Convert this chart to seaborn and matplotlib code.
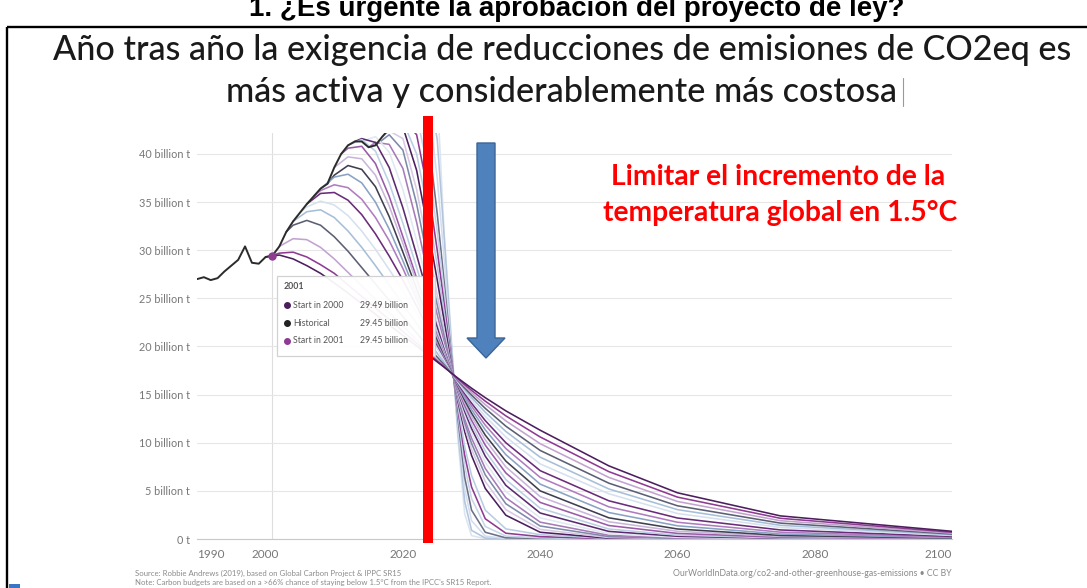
import matplotlib
matplotlib.use("Agg")
import matplotlib.pyplot as plt
from matplotlib.patches import Rectangle, Polygon
import seaborn as sns
import pandas as pd

# historical emissions, billion t
hist_years = list(range(1990, 2020))
hist_values = [27.0, 27.2, 26.9, 27.1, 27.8, 28.4, 29.0, 30.4, 28.7, 28.6,
               29.3, 29.45, 30.4, 31.9, 33.0, 33.9, 34.8, 35.6, 36.4, 36.9,
               38.6, 40.0, 40.9, 41.3, 41.3, 40.7, 40.9, 41.8, 42.6, 43.1]

# every mitigation curve starts at its start year, then follows these years
grid_years = [2000, 2002, 2004, 2006, 2008, 2010, 2012, 2014, 2016, 2018, 2020,
              2022, 2024, 2025, 2026, 2027, 2028, 2029, 2030, 2032, 2035,
              2040, 2050, 2060, 2075, 2100]

start_years = list(range(2000, 2026))

s2000 = [29.3, 29.5, 29.1, 28.4, 27.6, 26.6, 25.55, 24.45, 23.35, 22.25, 21.15, 20.05, 18.95, 18.4, 17.85, 17.28,
         16.72, 16.19, 15.67, 14.68, 13.31, 11.3, 7.6, 4.8, 2.4, 0.8]
s2001 = [29.45, 29.7, 29.8, 29.3, 28.5, 27.6, 26.4, 25.2, 24.0, 22.8, 21.55, 20.35, 19.1, 18.5, 17.9, 17.28,
         16.64, 16.03, 15.44, 14.32, 12.79, 10.6, 7.0, 4.35, 2.15, 0.7]
s2002 = [30.4, 31.2, 31.1, 30.3, 29.1, 27.7, 26.3, 24.9, 23.5, 22.1, 20.7, 19.3, 18.6, 17.95, 17.28,
         16.56, 15.87, 15.2, 13.96, 12.27, 9.9, 6.4, 3.9, 1.9, 0.6]
s2003 = [31.9, 32.6, 33.1, 32.6, 31.4, 29.9, 28.2, 26.5, 24.8, 23.1, 21.4, 19.7, 18.9, 18.1, 17.29,
         16.47, 15.69, 14.95, 13.57, 11.72, 9.2, 5.8, 3.45, 1.65, 0.52]
s2004 = [33.0, 34.0, 34.2, 33.4, 32.0, 30.3, 28.4, 26.4, 24.4, 22.4, 20.3, 19.3, 18.3, 17.29,
         16.39, 15.52, 14.69, 13.17, 11.17, 8.5, 5.2, 3.05, 1.42, 0.44]
s2005 = [33.9, 34.5, 35.1, 34.7, 33.6, 32.0, 30.1, 28.0, 25.8, 23.5, 21.0, 19.8, 18.55, 17.31,
         16.29, 15.32, 14.41, 12.74, 10.6, 7.8, 4.7, 2.65, 1.2, 0.37]
s2006 = [34.8, 35.9, 36.0, 35.2, 33.7, 31.7, 29.4, 26.9, 24.2, 21.3, 19.95, 18.6, 17.33,
         16.19, 15.12, 14.11, 12.3, 10.0, 7.1, 3.97, 2.18, 0.94, 0.27]
s2007 = [35.6, 36.2, 36.8, 36.5, 35.3, 33.4, 31.0, 28.1, 24.9, 21.6, 20.1, 18.7, 17.35,
         16.09, 14.9, 13.8, 11.83, 9.4, 6.4, 3.34, 1.74, 0.71, 0.19]
s2008 = [36.4, 37.6, 37.9, 37.0, 35.0, 32.2, 28.9, 25.4, 21.9, 20.3, 18.8, 17.38,
         15.98, 14.66, 13.45, 11.34, 8.76, 5.7, 2.75, 1.37, 0.52, 0.13]
s2009 = [36.9, 37.8, 38.8, 38.4, 36.6, 33.5, 29.8, 26.0, 22.3, 20.6, 18.95, 17.44,
         15.86, 14.4, 13.08, 10.79, 8.09, 5.0, 2.2, 1.04, 0.37, 0.08]
s2010 = [38.6, 39.7, 39.5, 37.8, 34.6, 30.7, 26.7, 22.8, 20.9, 19.2, 17.48,
         15.74, 14.15, 12.73, 10.3, 7.49, 4.4, 1.79, 0.8, 0.27, 0.05]
s2011 = [40.0, 40.6, 40.8, 39.0, 35.6, 31.4, 27.1, 23.0, 21.1, 19.3, 17.53,
         15.61, 13.88, 12.34, 9.75, 6.86, 3.8, 1.4, 0.58, 0.18, 0.03]
s2012 = [40.9, 41.5, 40.3, 37.0, 32.8, 28.2, 23.6, 21.5, 19.5, 17.6,
         15.47, 13.57, 11.9, 9.14, 6.17, 3.2, 1.04, 0.4, 0.11, 0.02]
s2013 = [41.3, 41.6, 41.2, 38.6, 34.4, 29.5, 24.4, 22.0, 19.7, 17.67,
         15.33, 13.26, 11.48, 8.6, 5.57, 2.7, 0.79, 0.28, 0.07, 0.01]
s2014 = [41.3, 41.8, 40.2, 36.3, 31.0, 25.2, 22.5, 20.0, 17.76,
         15.17, 12.91, 11.0, 7.97, 4.92, 2.2, 0.56, 0.18, 0.04, 0.01]
s2015 = [40.7, 41.2, 41.0, 38.5, 32.9, 26.3, 23.3, 20.5, 17.87,
         14.99, 12.53, 10.48, 7.33, 4.28, 1.75, 0.38, 0.11, 0.02, 0.0]
s2016 = [40.9, 42.0, 40.4, 34.8, 27.7, 24.3, 21.1, 17.99,
         14.8, 12.13, 9.93, 6.66, 3.66, 1.35, 0.25, 0.06, 0.01, 0.0]
s2017 = [41.8, 42.4, 41.6, 36.3, 29.0, 25.3, 21.7, 18.14,
         14.6, 11.67, 9.34, 5.97, 3.05, 1.0, 0.15, 0.03, 0.01, 0.0]
s2018 = [42.6, 42.8, 38.3, 30.9, 26.9, 22.7, 18.33,
         14.35, 11.16, 8.68, 5.25, 2.47, 0.7, 0.08, 0.015, 0.0, 0.0]
s2019 = [43.1, 43.4, 40.0, 32.8, 28.4, 23.6, 18.6,
         13.9, 9.6, 6.6, 3.0, 1.05, 0.45, 0.05, 0.01, 0.0, 0.0]
s2020 = [43.6, 42.0, 34.9, 30.0, 24.5, 18.9,
         13.5, 8.7, 5.4, 2.1, 0.6, 0.25, 0.02, 0.0, 0.0, 0.0]
s2021 = [44.1, 43.9, 37.4, 31.9, 25.8, 19.2,
         13.1, 7.6, 4.2, 1.3, 0.3, 0.12, 0.01, 0.0, 0.0, 0.0]
s2022 = [44.6, 39.8, 33.8, 26.8, 19.6,
         12.6, 6.4, 3.0, 0.7, 0.12, 0.05, 0.0, 0.0, 0.0, 0.0]
s2023 = [45.1, 43.5, 37.5, 29.2, 20.2,
         12.0, 5.2, 1.9, 0.3, 0.05, 0.02, 0.0, 0.0, 0.0, 0.0]
s2024 = [45.6, 41.5, 31.5, 20.8,
         11.3, 3.9, 0.9, 0.1, 0.02, 0.01, 0.0, 0.0, 0.0, 0.0]
s2025 = [46.1, 32.0, 21.5,
         10.5, 2.6, 0.35, 0.03, 0.0, 0.0, 0.0, 0.0, 0.0, 0.0]

curves = [s2000, s2001, s2002, s2003, s2004, s2005, s2006, s2007, s2008, s2009,
          s2010, s2011, s2012, s2013, s2014, s2015, s2016, s2017, s2018, s2019,
          s2020, s2021, s2022, s2023, s2024, s2025]

curve_colors = ["#4b1e5e", "#8e3b91", "#c2a3d0", "#5c5f73", "#a7bed8", "#d5e1ee",
                "#6a2c7a", "#b07cc0", "#8aa3c4", "#3f3f4f", "#c9b6db", "#9a5aa6",
                "#bcd0e4", "#5b2a6e", "#e0e8f2", "#a77bb8", "#7d8aa8", "#d8c9e4",
                "#4b1e5e", "#b9cde2", "#8e3b91", "#c6d6e8", "#6d6f86", "#d2def0",
                "#b3c5dd", "#dbe5f1"]

ytick_vals = [0, 5, 10, 15, 20, 25, 30, 35, 40]
ytick_labels = ["0 t"] + [f"{v} billion t" for v in ytick_vals[1:]]
xtick_vals = [1990, 2000, 2020, 2040, 2060, 2080, 2100]

tooltip_rows = [("Start in 2000", "29.49 billion"),
                ("Historical", "29.45 billion"),
                ("Start in 2001", "29.45 billion")]

palette = dict(zip(start_years, curve_colors))

rows = []
for s, vals in zip(start_years, curves):
    yrs = [s] + [g for g in grid_years if g > s]
    assert len(yrs) == len(vals), s
    rows += [(s, y, v) for y, v in zip(yrs, vals)]
df = pd.DataFrame(rows, columns=["start", "year", "value"])

sns.set_style("white")
plt.rcParams["font.family"] = ["Lato", "DejaVu Sans"]

W, H = 1087, 588
fig = plt.figure(figsize=(W / 100, H / 100), dpi=100)
fig.patch.set_facecolor("white")

ax = fig.add_axes([197 / W, (H - 539) / H, 755 / W, 406 / H])
ax.axvline(2001, color="#dedede", lw=0.8, zorder=0.5)
sns.lineplot(data=df, x="year", y="value", hue="start", hue_order=start_years[::-1],
             palette=palette, estimator=None, sort=False, lw=1.15, legend=False, ax=ax)
sns.lineplot(x=hist_years, y=hist_values, color="#2b2b2b", lw=1.4, ax=ax)
ax.plot([2001], [29.45], "o", color="#8e3b91", ms=5, zorder=12)

ax.set_xlim(1990, 2100)
ax.set_ylim(0, 42.18)
ax.set_yticks(ytick_vals)
ax.set_yticklabels(ytick_labels)
ax.set_xticks(xtick_vals)
ax.set_xticklabels([str(v) for v in xtick_vals])
ax.get_xticklabels()[0].set_ha("left")
ax.get_xticklabels()[-1].set_ha("right")
ax.tick_params(axis="y", length=0, pad=5, labelsize=7.8, labelcolor="#777777")
ax.tick_params(axis="x", length=3, color="#bbbbbb", pad=4, labelsize=8.5, labelcolor="#777777")
ax.set_xlabel("")
ax.set_ylabel("")
ax.grid(axis="y", color="#e6e6e6", lw=0.8)
ax.set_axisbelow(True)
for side in ["top", "right", "left"]:
    ax.spines[side].set_visible(False)
ax.spines["bottom"].set_color("#c8c8c8")

# hover tooltip
ax.add_patch(Rectangle((2001.7, 19.05), 23.0, 8.3, facecolor="white", alpha=0.94,
                       edgecolor="#d0d0d0", lw=0.9, zorder=10))
ax.text(2002.6, 26.2, "2001", fontsize=6.3, fontweight="bold", color="#555555", va="center", zorder=11)
dot_colors = ["#4b1e5e", "#222222", "#8e3b91"]
for (lab, val), yv, c in zip(tooltip_rows, [24.3, 22.4, 20.6], dot_colors):
    ax.plot([2003.1], [yv], "o", color=c, ms=4, zorder=11)
    ax.text(2004.0, yv, lab, fontsize=6.3, color="#555555", va="center", zorder=11)
    ax.text(2013.8, yv, val, fontsize=6.3, color="#555555", va="center", zorder=11)

# slide decorations in pixel coordinates
deco = fig.add_axes([0, 0, 1, 1], zorder=5)
deco.set_xlim(0, W)
deco.set_ylim(H, 0)
deco.axis("off")
deco.patch.set_alpha(0)

deco.text(577, 16, "1. ¿Es urgente la aprobación del proyecto de ley?", ha="center",
          va="baseline", fontsize=20, fontweight="bold", family="Liberation Sans", color="black")
deco.plot([7, W], [27, 27], color="black", lw=1.7, solid_capstyle="butt")
deco.plot([7, 7], [27, H], color="black", lw=1.7, solid_capstyle="butt")

deco.text(562, 50, "Año tras año la exigencia de reducciones de emisiones de CO2eq es",
          ha="center", va="center", fontsize=24.6, fontweight="medium", color="#1a1a1a")
deco.text(562, 92, "más activa y considerablemente más costosa",
          ha="center", va="center", fontsize=24.6, fontweight="medium", color="#1a1a1a")
deco.plot([903, 903], [78, 106], color="#999999", lw=0.8)

deco.text(778, 177, "Limitar el incremento de la", ha="center", va="center",
          fontsize=20.3, fontweight="bold", color="#ff0000")
deco.text(780, 213, "temperatura global en 1.5°C", ha="center", va="center",
          fontsize=20.3, fontweight="bold", color="#ff0000")

deco.plot([428, 428], [116, 543], color="#ff0000", lw=7.2, solid_capstyle="butt")
deco.add_patch(Polygon([(477, 143), (495, 143), (495, 338), (505, 338), (486, 358),
                        (467, 338), (477, 338)], closed=True,
                       facecolor="#4f81bd", edgecolor="#3b6596", lw=1))

deco.text(135, 573, "Source: Robbie Andrews (2019), based on Global Carbon Project & IPPC SR15",
          fontsize=5.6, color="#8a8a8a", va="center")
deco.text(135, 583, "Note: Carbon budgets are based on a >66% chance of staying below 1.5°C from the IPCC's SR15 Report.",
          fontsize=5.6, color="#8a8a8a", va="center")
deco.text(952, 574, "OurWorldInData.org/co2-and-other-greenhouse-gas-emissions • CC BY",
          fontsize=6.3, color="#8a8a8a", va="center", ha="right")
deco.add_patch(Rectangle((9, 584), 11, 5, facecolor="#3b74c4", edgecolor="none"))

fig.savefig("out.png", dpi=100)
